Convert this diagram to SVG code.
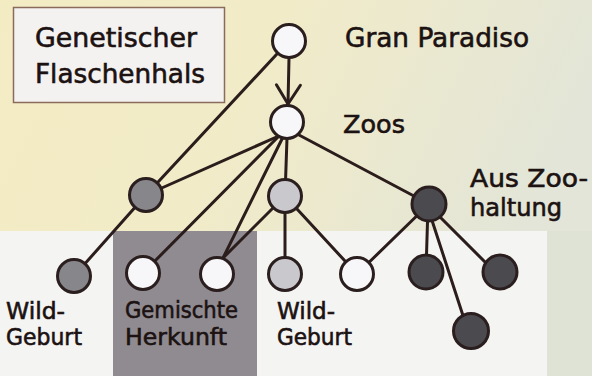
<svg xmlns="http://www.w3.org/2000/svg" width="592" height="376" viewBox="0 0 592 376">
  <defs>
    <linearGradient id="bg" x1="0" y1="0" x2="1" y2="0.3">
      <stop offset="0" stop-color="#f3ecc3"/>
      <stop offset="0.45" stop-color="#f1ebc8"/>
      <stop offset="1" stop-color="#e2e5d8"/>
    </linearGradient>
    <marker id="arrow" markerUnits="userSpaceOnUse" viewBox="-22 -15 25 30" refX="0" refY="0" markerWidth="25" markerHeight="30" orient="auto" overflow="visible">
      <path d="M-19,-12 L0,0 L-19,12" fill="none" stroke="#2b1d1b" stroke-width="3" stroke-linecap="round" stroke-linejoin="round"/>
    </marker>
    <style>
      .edge { stroke: #2b1d1b; stroke-width: 3; stroke-linecap: round; fill: none; }
      .node { stroke: #2a1e1e; stroke-width: 3; }
      .white { fill: #f7f6f8; }
      .mid { fill: #87868a; }
      .light { fill: #c9c8cd; }
      .dark { fill: #4b4a4e; }
      .lbl { font-family: "DejaVu Sans", "Liberation Sans", sans-serif; fill: #1c1212; stroke: #1c1212; stroke-width: 0.6px; }
      .big { font-size: 26px; }
      .med { font-size: 25px; }
      .mid2 { font-size: 24px; }
      .small { font-size: 23px; }
    </style>
  </defs>

  <!-- background -->
  <rect x="0" y="0" width="592" height="376" fill="url(#bg)"/>
  <rect x="0" y="231" width="547" height="145" fill="#f4f4f3"/>
  <rect x="547" y="231" width="45" height="145" fill="#dfe3d6"/>
  <rect x="113" y="231" width="144" height="145" fill="#8f8b91"/>

  <!-- title box -->
  <g id="title">
    <rect x="13.5" y="7.5" width="211" height="95" fill="#f4f2f0" stroke="#8b6b5c" stroke-width="1.5"/>
    <text class="lbl big" x="35" y="47" textLength="162" lengthAdjust="spacingAndGlyphs">Genetischer</text>
    <text class="lbl big" x="35" y="83" textLength="170" lengthAdjust="spacingAndGlyphs">Flaschenhals</text>
  </g>

  <!-- connectors -->
  <g id="connectors">
    <line class="edge" x1="289" y1="41" x2="146" y2="195"/>
    <line class="edge" x1="289" y1="58" x2="288" y2="104" marker-end="url(#arrow)"/>
    <line class="edge" x1="281" y1="135" x2="146" y2="195"/>
    <line class="edge" x1="279" y1="136" x2="143" y2="273"/>
    <line class="edge" x1="283" y1="137" x2="223" y2="258"/>
    <line class="edge" x1="287" y1="138" x2="285" y2="196"/>
    <line class="edge" x1="299" y1="135" x2="429" y2="204"/>
    <line class="edge" x1="146" y1="195" x2="74" y2="276"/>
    <line class="edge" x1="285" y1="196" x2="223" y2="258"/>
    <line class="edge" x1="285" y1="196" x2="285" y2="274"/>
    <line class="edge" x1="285" y1="196" x2="357" y2="274"/>
    <line class="edge" x1="429" y1="204" x2="357" y2="274"/>
    <line class="edge" x1="428" y1="205" x2="426" y2="272"/>
    <line class="edge" x1="427" y1="205" x2="468" y2="331"/>
    <line class="edge" x1="428" y1="205" x2="495" y2="272"/>
  </g>

  <!-- nodes -->
  <g id="gran-paradiso">
    <circle class="node white" cx="289" cy="41" r="16.5"/>
    <text class="lbl big" x="345" y="47" textLength="184" lengthAdjust="spacingAndGlyphs">Gran Paradiso</text>
  </g>
  <g id="zoos">
    <circle class="node white" cx="287" cy="122" r="16.5"/>
    <text class="lbl med" x="343" y="133" textLength="62" lengthAdjust="spacingAndGlyphs">Zoos</text>
  </g>
  <g id="wild-parent">
    <circle class="node mid" cx="146" cy="195" r="16.5"/>
  </g>
  <g id="mixed-parent">
    <circle class="node light" cx="285" cy="196" r="16.5"/>
  </g>
  <g id="zoo-parent">
    <circle class="node dark" cx="429" cy="204" r="17"/>
    <text class="lbl mid2" x="470" y="187" textLength="118" lengthAdjust="spacingAndGlyphs">Aus Zoo-</text>
    <text class="lbl mid2" x="470" y="216" textLength="92" lengthAdjust="spacingAndGlyphs">haltung</text>
  </g>
  <g id="wild-birth-1">
    <circle class="node mid" cx="74" cy="276" r="16.5"/>
    <text class="lbl small" x="6" y="319" textLength="59" lengthAdjust="spacingAndGlyphs">Wild-</text>
    <text class="lbl small" x="6" y="345" textLength="76" lengthAdjust="spacingAndGlyphs">Geburt</text>
  </g>
  <g id="mixed-1">
    <circle class="node white" cx="143" cy="273" r="16.5"/>
  </g>
  <g id="mixed-2">
    <circle class="node white" cx="217" cy="274" r="16.5"/>
    <text class="lbl small" x="125" y="318" textLength="113" lengthAdjust="spacingAndGlyphs">Gemischte</text>
    <text class="lbl small" x="125" y="345" textLength="102" lengthAdjust="spacingAndGlyphs">Herkunft</text>
  </g>
  <g id="wild-birth-2">
    <circle class="node light" cx="285" cy="274" r="16.5"/>
    <text class="lbl small" x="277" y="319" textLength="58" lengthAdjust="spacingAndGlyphs">Wild-</text>
    <text class="lbl small" x="277" y="345" textLength="75" lengthAdjust="spacingAndGlyphs">Geburt</text>
  </g>
  <g id="white-3">
    <circle class="node white" cx="357" cy="274" r="16.5"/>
  </g>
  <g id="zoo-1">
    <circle class="node dark" cx="426" cy="272" r="17"/>
  </g>
  <g id="zoo-2">
    <circle class="node dark" cx="500" cy="272" r="17"/>
  </g>
  <g id="zoo-3">
    <circle class="node dark" cx="471" cy="331" r="17.5"/>
  </g>
</svg>
